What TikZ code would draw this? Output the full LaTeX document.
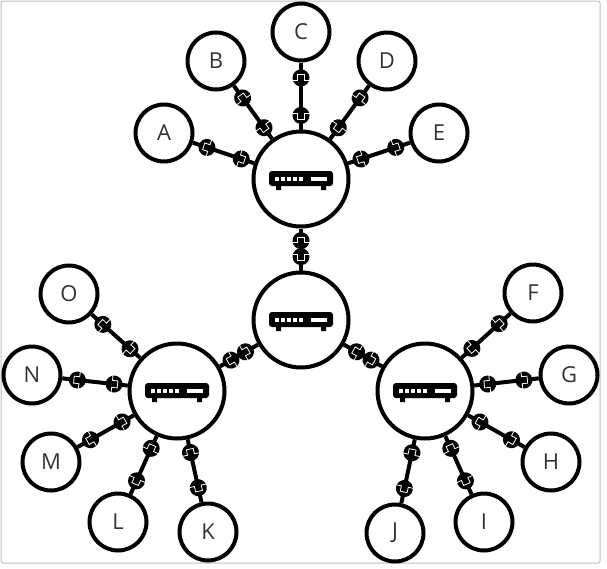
\documentclass[tikz,border=0pt]{standalone}
\usepackage{fontspec}
\setmainfont{Open Sans}
\begin{document}
\begin{tikzpicture}[x=1pt,y=-1pt]
  \tikzset{
    hub/.style={circle,draw,line width=4pt,fill=white,minimum size=95pt,inner sep=0pt},
    leaf/.style={circle,draw,line width=4pt,fill=white,minimum size=57pt,inner sep=0pt,text=black!80,font=\fontsize{22}{22}\selectfont},
    link/.style={line width=4pt},
    plug/.pic={
      \fill[black] (0,0) circle (8.5);
      \draw[white,line width=0.8pt] (-#1*2,-8.5) -- (-#1*2,-3.5) -- (#1*3.5,-3.5) -- (#1*3.5,3.5) -- (-#1*2,3.5) -- (-#1*2,8.5);
    },
    router/.pic={
      \fill[black,rounded corners=3pt] (-32,-8) rectangle (32,7);
      \fill[black] (-25,6) rectangle (-20,11) (20,6) rectangle (25,11);
      \foreach \x in {-26,-20,-14,-8,-2} {
        \fill[white] (\x,-2.5) rectangle ++(4,4);
      }
      \fill[white] (10,-2.5) rectangle (26,1.5);
    },
  }
  \useasboundingbox (0,0) rectangle (607,568);
  \draw[black!25,line width=1pt,rounded corners=2pt] (1,1) rectangle (600,563);
  % hubs
  \node[hub] (hubT) at (301,179) {};
  \node[hub] (hubC) at (301,320) {};
  \node[hub] (hubL) at (177,391) {};
  \node[hub] (hubR) at (425,391) {};
  \foreach \h in {hubT,hubC,hubL,hubR} {
    \pic at (\h) {router};
  }
  % leaves
  \foreach \n/\x/\y in {A/164/133, B/216/61, C/301/32, D/387/61, E/439/133,
    F/533/293, G/569/375, H/551/462, I/484/522, J/395/533,
    K/208/532, L/118/522, M/51/462, N/32/375, O/69/294} {
    \node[leaf] (\n) at (\x,\y) {\n};
  }
  % links
  \foreach \h/\n in {hubT/A, hubT/B, hubT/C, hubT/D, hubT/E,
    hubR/F, hubR/G, hubR/H, hubR/I, hubR/J,
    hubL/K, hubL/L, hubL/M, hubL/N, hubL/O} {
    \draw[link] (\h) -- (\n)
      pic[pos=.21,sloped,allow upside down] {plug=-1}
      pic[pos=.77,sloped,allow upside down] {plug=1};
  }
  \foreach \h/\n in {hubC/hubT, hubC/hubL, hubC/hubR} {
    \draw[link] (\h) -- (\n)
      pic[pos=.33,sloped,allow upside down] {plug=-1}
      pic[pos=.71,sloped,allow upside down] {plug=1};
  }
\end{tikzpicture}
\end{document}
